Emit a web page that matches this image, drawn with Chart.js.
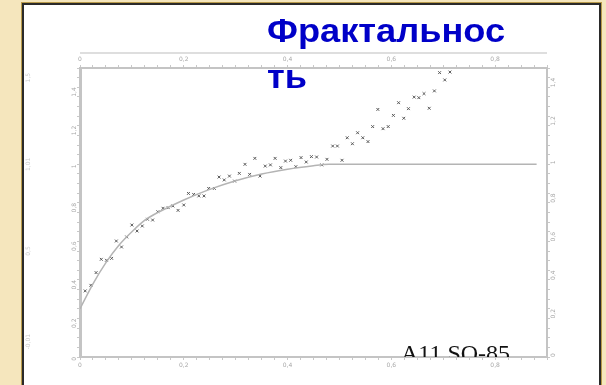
<!DOCTYPE html>
<html>
<head>
<meta charset="utf-8">
<script src="https://cdn.jsdelivr.net/npm/chart.js@4.4.1/dist/chart.umd.min.js"></script>
<style>
  html, body { margin: 0; padding: 0; background: #f5e6bd; }
  #wrap { width: 606px; height: 385px; position: relative; }
</style>
</head>
<body>
<div id="wrap"><canvas id="chart_fractal"></canvas></div>
<script>
const titleLines = ['Фрактальнос', 'ть'];
const sampleLabel = 'A11 SO-85';

// measured points
const pointX = [0.010, 0.021, 0.031, 0.041, 0.051, 0.061, 0.070, 0.080, 0.090, 0.100,
  0.110, 0.120, 0.130, 0.140, 0.150, 0.160, 0.170, 0.179, 0.189, 0.200,
  0.209, 0.219, 0.229, 0.239, 0.248, 0.259, 0.268, 0.278, 0.288, 0.298,
  0.307, 0.318, 0.327, 0.337, 0.347, 0.357, 0.367, 0.376, 0.387, 0.396,
  0.406, 0.416, 0.426, 0.436, 0.446, 0.456, 0.466, 0.476, 0.487, 0.496,
  0.505, 0.515, 0.525, 0.535, 0.545, 0.555, 0.564, 0.574, 0.584, 0.594,
  0.604, 0.614, 0.624, 0.633, 0.644, 0.653, 0.663, 0.673, 0.683, 0.693,
  0.703, 0.713];
const pointY = [0.343, 0.372, 0.438, 0.507, 0.502, 0.512, 0.602, 0.571, 0.623, 0.685,
  0.654, 0.680, 0.715, 0.711, 0.754, 0.772, 0.775, 0.784, 0.761, 0.789,
  0.849, 0.844, 0.836, 0.836, 0.875, 0.875, 0.934, 0.919, 0.939, 0.913,
  0.953, 1.000, 0.948, 1.031, 0.939, 0.991, 0.997, 1.031, 0.983, 1.017,
  1.021, 0.988, 1.035, 1.012, 1.040, 1.038, 0.997, 1.026, 1.095, 1.095,
  1.021, 1.138, 1.107, 1.164, 1.138, 1.118, 1.196, 1.285, 1.185, 1.196,
  1.254, 1.320, 1.239, 1.289, 1.349, 1.346, 1.367, 1.291, 1.381, 1.476,
  1.438, 1.479];

// fitted curve
const fitX = [0, 0.025, 0.05, 0.075, 0.1, 0.125, 0.15, 0.2, 0.25, 0.3, 0.35, 0.4, 0.45, 0.48, 0.88];
const fitY = [0.25, 0.38, 0.49, 0.58, 0.65, 0.71, 0.75, 0.815, 0.87, 0.915, 0.95, 0.975, 0.993, 1.0, 1.0];

// axis ticks
const xTickValues = [0, 0.2, 0.4, 0.6, 0.8];
const xTickLabels = ['0', '0,2', '0,4', '0,6', '0,8'];
const yTickValues = [0, 0.2, 0.4, 0.6, 0.8, 1, 1.2, 1.4];
const yTickLabels = ['0', '0,2', '0,4', '0,6', '0,8', '1', '1,2', '1,4'];
const outerValues = [1.45, 1.0, 0.55, 0.08];
const outerLabels = ['1,5', '1,01', '0,5', '-0,01'];

const toXY = (xs, ys) => xs.map((x, i) => ({ x: x, y: ys[i] }));

const labelFor = (values, labels) => (v) => {
  const i = values.findIndex(t => Math.abs(t - v) < 1e-6);
  return i >= 0 ? labels[i] : '';
};

const tickFont = { family: 'DejaVu Sans', size: 6 };

const axisX = (position, h) => ({
  type: 'linear', position: position, min: 0, max: 0.9,
  afterFit: (s) => { s.height = h; },
  border: { color: '#c4c4c4', width: 2 },
  grid: { drawOnChartArea: false, tickLength: 3, color: '#c8c8c8' },
  ticks: { stepSize: 0.025, autoSkip: false, maxRotation: 0, color: '#a8a8a8', font: tickFont, padding: 2,
    callback: labelFor(xTickValues, xTickLabels) }
});

const axisY = (position, w, bw) => ({
  type: 'linear', position: position, min: 0, max: 1.5,
  afterFit: (s) => { s.width = w; },
  border: { color: '#c4c4c4', width: bw },
  grid: { drawOnChartArea: false, tickLength: 3, color: '#c8c8c8' },
  ticks: { stepSize: 0.05, autoSkip: false, minRotation: 90, maxRotation: 90, color: '#a8a8a8', font: tickFont, padding: 3,
    callback: labelFor(yTickValues, yTickLabels) }
});

const panel = {
  id: 'panel',
  beforeDraw(chart) {
    const ctx = chart.ctx;
    const a = chart.chartArea;
    ctx.save();
    ctx.fillStyle = '#f5e6bd';
    ctx.fillRect(0, 0, chart.width, chart.height);
    ctx.fillStyle = '#ffffff';
    ctx.fillRect(23, 4, 577, 400);
    ctx.strokeStyle = '#b89a4a';
    ctx.lineWidth = 1;
    ctx.strokeRect(21.5, 2.5, 580, 400);
    ctx.strokeStyle = '#2a2a2a';
    ctx.lineWidth = 2;
    ctx.strokeRect(23, 4, 577, 400);
    // plot caption bar
    ctx.fillStyle = '#dedede';
    ctx.fillRect(a.left, 52, a.right - a.left, 2);
    // faint outer labels
    const y = chart.scales.y;
    ctx.fillStyle = '#c8c8c8';
    ctx.font = '6px DejaVu Sans';
    ctx.textAlign = 'center';
    outerValues.forEach((v, i) => {
      ctx.save();
      ctx.translate(30, y.getPixelForValue(v));
      ctx.rotate(-Math.PI / 2);
      ctx.fillText(outerLabels[i], 0, 0);
      ctx.restore();
    });
    ctx.restore();
  },
  afterDraw(chart) {
    const ctx = chart.ctx;
    const a = chart.chartArea;
    ctx.save();
    ctx.beginPath();
    ctx.rect(a.left, a.top, a.right - a.left, a.bottom - a.top);
    ctx.clip();
    ctx.fillStyle = '#111';
    ctx.font = '24px "Liberation Serif"';
    ctx.textAlign = 'left';
    ctx.fillText(sampleLabel, 401, 361);
    ctx.restore();
    ctx.save();
    ctx.fillStyle = '#0000c8';
    ctx.font = 'bold 34px "Liberation Sans"';
    ctx.textAlign = 'left';
    ctx.translate(267, 0);
    ctx.scale(1.065, 1);
    ctx.fillText(titleLines[0], 0, 42);
    ctx.fillText(titleLines[1], 0, 88);
    ctx.restore();
  }
};

new Chart(document.getElementById('chart_fractal'), {
  type: 'scatter',
  data: {
    datasets: [{
      label: 'fit',
      type: 'line',
      data: toXY(fitX, fitY),
      borderColor: '#b4b4b4',
      borderWidth: 1.5,
      pointRadius: 0,
      tension: 0.3,
      xAxisID: 'x', yAxisID: 'y'
    }, {
      label: 'data',
      data: toXY(pointX, pointY),
      pointStyle: 'crossRot',
      pointRadius: 2,
      borderColor: '#5a5a5a',
      backgroundColor: '#5a5a5a',
      borderWidth: 1,
      xAxisID: 'x', yAxisID: 'y'
    }]
  },
  options: {
    responsive: true,
    maintainAspectRatio: false,
    animation: false,
    layout: { padding: 0 },
    plugins: { legend: { display: false }, tooltip: { enabled: false } },
    scales: {
      x: axisX('bottom', 28),
      x2: axisX('top', 68),
      y: axisY('left', 80, 3),
      y2: axisY('right', 59, 2)
    }
  },
  plugins: [panel]
});
</script>
</body>
</html>
